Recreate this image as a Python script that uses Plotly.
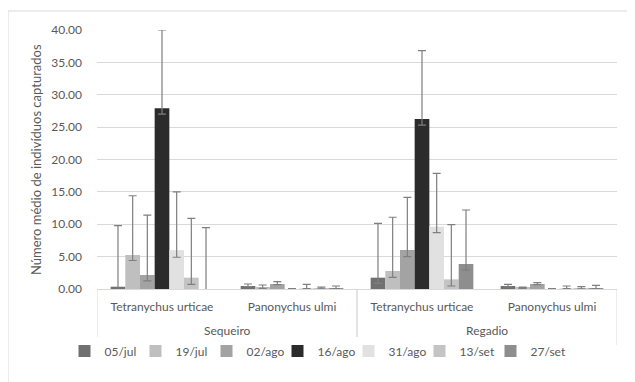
import plotly.graph_objects as go

# ---- data ----
group_names = ["Sequeiro", "Regadio"]
groups = ["Sequeiro", "Sequeiro", "Regadio", "Regadio"]
species = ["Tetranychus urticae", "Panonychus ulmi", "Tetranychus urticae", "Panonychus ulmi"]
dates = ["05/jul", "19/jul", "02/ago", "16/ago", "31/ago", "13/set", "27/set"]

# values per date: [Seq T.urt, Seq P.ulmi, Reg T.urt, Reg P.ulmi]
v_05jul = [0.35, 0.46, 1.75, 0.46]
v_19jul = [5.25, 0.20, 2.78, 0.20]
v_02ago = [2.16, 0.77, 6.02, 0.77]
v_16ago = [27.9, 0.00, 26.25, 0.00]
v_31ago = [6.00, 0.10, 9.63, 0.10]
v_13set = [1.75, 0.05, 1.49, 0.05]
v_27set = [0.00, 0.10, 3.86, 0.10]

# upper error
ep_05jul = [9.45, 0.31, 8.40, 0.26]
ep_19jul = [9.15, 0.42, 8.30, 0.10]
ep_02ago = [9.25, 0.36, 8.14, 0.23]
ep_16ago = [12.1, 0.05, 10.55, 0.05]
ep_31ago = [9.00, 0.62, 8.24, 0.36]
ep_13set = [9.15, 0.25, 8.45, 0.31]
ep_27set = [9.47, 0.36, 8.34, 0.47]

# lower error
em_05jul = [0.90, 0.10, 0.87, 0.10]
em_19jul = [0.85, 0.10, 0.98, 0.10]
em_02ago = [0.92, 0.10, 1.02, 0.10]
em_16ago = [0.90, 0.00, 0.95, 0.00]
em_31ago = [1.10, 0.05, 0.93, 0.05]
em_13set = [1.03, 0.03, 1.03, 0.03]
em_27set = [0.90, 0.05, 0.93, 0.05]

values = [v_05jul, v_19jul, v_02ago, v_16ago, v_31ago, v_13set, v_27set]
err_plus = [ep_05jul, ep_19jul, ep_02ago, ep_16ago, ep_31ago, ep_13set, ep_27set]
err_minus = [em_05jul, em_19jul, em_02ago, em_16ago, em_31ago, em_13set, em_27set]
colors = ["#707070", "#bfbfbf", "#a3a3a3", "#2b2b2b", "#e1e1e1", "#c4c4c4", "#8e8e8e"]

FONT = "Lato"
TXT = "#595959"
GRID = "#d9d9d9"

# category positions on the x axis (one slot per group/species pair)
xpos = list(range(len(species)))

fig = go.Figure()
for i, (d, v, ep, em, c) in enumerate(zip(dates, values, err_plus, err_minus, colors)):
    fig.add_trace(go.Bar(
        name=d, x=xpos, y=v, marker_color=c, marker_line_width=0,
        customdata=groups,
        legendwidth=(36 if i == len(dates) - 1 else None),
        error_y=dict(type="data", symmetric=False, array=ep, arrayminus=em,
                     color="#7f7f7f", thickness=1.2, width=4),
    ))

# page body has an 8px margin, so the figure is drawn 8px smaller and offset
OFF = 8
W, H = 635 - OFF, 382 - OFF
L, R, T, B = 97 - OFF, 18, 30 - OFF, 93
pw, ph = W - L - R, H - T - B

def px_x(x):  # window pixel -> paper
    return (x - OFF - L) / pw

def px_y(y):
    return (H - B - (y - OFF)) / ph

# group labels centred under their categories, dividers between groups
annotations = [dict(text="Número médio de indivíduos capturados", textangle=-90,
                    xref="paper", yref="paper", x=px_x(36), y=px_y(160),
                    xanchor="center", yanchor="middle", showarrow=False,
                    font=dict(family=FONT, size=13, color=TXT))]
shapes = [dict(type="rect", xref="paper", yref="paper",
               x0=px_x(8), y0=px_y(420), x1=px_x(700), y1=px_y(11),
               line=dict(color=GRID, width=1), layer="below")]
for g in group_names:
    idx = [k for k, gg in enumerate(groups) if gg == g]
    annotations.append(dict(text=g, xref="x", yref="paper",
                            x=(idx[0] + idx[-1]) / 2, y=px_y(330),
                            xanchor="center", yanchor="middle", showarrow=False,
                            font=dict(family=FONT, size=12, color=TXT)))
    for edge in (idx[0] - 0.5, idx[-1] + 0.5):
        shapes.append(dict(type="line", xref="x", yref="paper",
                           x0=edge, x1=edge, y0=0, y1=px_y(345),
                           line=dict(color=GRID, width=1)))

fig.update_layout(
    width=W, height=H,
    margin=dict(l=L, r=R, t=T, b=B, autoexpand=False),
    paper_bgcolor="white", plot_bgcolor="white",
    barmode="group", bargap=0.21, bargroupgap=0,
    font=dict(family=FONT, size=12, color=TXT),
    showlegend=True,
    legend=dict(orientation="h", xref="container", x=(318 - OFF) / W, xanchor="center",
                yref="container", y=(H - (351 - OFF)) / H, yanchor="middle",
                font=dict(family=FONT, size=12, color=TXT), traceorder="normal",
                itemwidth=30, entrywidth=26, entrywidthmode="pixels"),
    xaxis=dict(range=[-0.5, len(species) - 0.5], tickmode="array", tickvals=xpos,
               ticktext=species, showgrid=False, zeroline=False, showline=True,
               linecolor=GRID, linewidth=1, ticks="", ticklabelstandoff=7,
               automargin=False, tickfont=dict(family=FONT, size=12, color=TXT)),
    yaxis=dict(range=[0, 40], dtick=5, tickformat=".2f", showgrid=True,
               gridcolor=GRID, gridwidth=1, zeroline=False, showline=False,
               ticks="", ticklabelstandoff=14, automargin=False,
               tickfont=dict(family=FONT, size=12, color=TXT)),
    annotations=annotations,
    shapes=shapes,
)

fig.write_html("out.html")
